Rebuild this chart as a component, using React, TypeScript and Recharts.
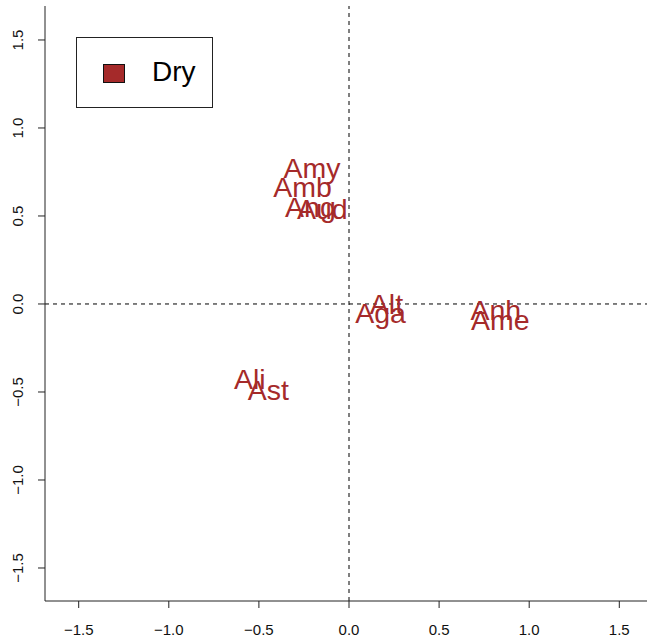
import React from 'react';
import { ScatterChart, Scatter, XAxis, YAxis, ReferenceLine } from 'recharts';

const labels = ['Amy', 'Amb', 'Ang', 'Aud', 'Alt', 'Aga', 'Anh', 'Ame', 'Ali', 'Ast'];
const xValues = [-0.205, -0.258, -0.214, -0.148, 0.208, 0.175, 0.815, 0.84, -0.55, -0.448];
const yValues = [0.775, 0.665, 0.555, 0.54, 0.0, -0.05, -0.03, -0.09, -0.425, -0.49];
const ticks = [-1.5, -1, -0.5, 0, 0.5, 1, 1.5];
const tickLabels = ['\u22121.5', '\u22121.0', '\u22120.5', '0.0', '0.5', '1.0', '1.5'];
const legendLabel = 'Dry';

const COLOR = '#A52A2A';
const AXIS = '#222';
const FONT = '"Liberation Sans", Arial, Helvetica, sans-serif';
const X_DOMAIN: [number, number] = [-1.687, 1.687];
const Y_DOMAIN: [number, number] = [-1.6875, 1.693];

const data = labels.map((name, i) => ({ name, x: xValues[i], y: yValues[i] }));

const fmt = (v: number) => {
  const i = ticks.findIndex((t) => Math.abs(t - v) < 1e-9);
  return i >= 0 ? tickLabels[i] : String(v);
};

const XTick = (props: any) => {
  const { x, y, payload } = props;
  return (
    <text x={x} y={y + 27} textAnchor="middle" fontSize={15} fontFamily={FONT} fill="#111">
      {fmt(payload.value)}
    </text>
  );
};

const YTick = (props: any) => {
  const { x, y, payload } = props;
  const bx = x - 15;
  return (
    <text
      x={bx}
      y={y}
      transform={`rotate(-90 ${bx} ${y})`}
      textAnchor="middle"
      fontSize={15}
      fontFamily={FONT}
      fill="#111"
    >
      {fmt(payload.value)}
    </text>
  );
};

const LabelShape = (props: any) => {
  const { cx, cy, payload } = props;
  const fs = 28.5;
  return (
    <text
      x={cx}
      y={cy + fs * 0.36}
      textAnchor="middle"
      fontSize={fs}
      fontFamily={FONT}
      fill={COLOR}
    >
      {payload.name}
    </text>
  );
};

export default function App() {
  return (
    <div
      style={{
        position: 'fixed',
        left: 0,
        top: 0,
        width: 647,
        height: 641,
        overflow: 'hidden',
        background: '#fff',
      }}
    >
      <ScatterChart width={660} height={641} margin={{ top: 6, right: 7, bottom: 0, left: 0 }}>
        <XAxis
          xAxisId="top"
          orientation="top"
          type="number"
          dataKey="x"
          domain={X_DOMAIN}
          allowDataOverflow
          height={0}
          tick={false}
          tickLine={false}
          axisLine={{ stroke: AXIS, strokeWidth: 1 }}
        />
        <XAxis
          type="number"
          dataKey="x"
          domain={X_DOMAIN}
          allowDataOverflow
          ticks={ticks}
          interval={0}
          height={40}
          tickSize={7}
          tickMargin={0}
          tickLine={{ stroke: AXIS }}
          axisLine={{ stroke: AXIS, strokeWidth: 1 }}
          tick={<XTick />}
        />
        <YAxis
          type="number"
          dataKey="y"
          domain={Y_DOMAIN}
          allowDataOverflow
          ticks={ticks}
          interval={0}
          width={45}
          tickSize={7}
          tickMargin={0}
          tickLine={{ stroke: AXIS }}
          axisLine={{ stroke: AXIS, strokeWidth: 1 }}
          tick={<YTick />}
        />
        <ReferenceLine x={0} stroke="#000" strokeDasharray="4 4" />
        <ReferenceLine y={0} stroke="#000" strokeDasharray="4 4" />
        <Scatter data={data} isAnimationActive={false} shape={<LabelShape />} />
      </ScatterChart>
      <div
        style={{
          position: 'absolute',
          left: 76,
          top: 37,
          width: 137,
          height: 71,
          boxSizing: 'border-box',
          border: `1px solid ${AXIS}`,
          background: '#fff',
        }}
      >
        <div
          style={{
            position: 'absolute',
            left: 26,
            top: 26,
            width: 22,
            height: 19,
            boxSizing: 'border-box',
            background: COLOR,
            border: '1px solid #111',
          }}
        />
        <div
          style={{
            position: 'absolute',
            left: 75,
            top: 16,
            fontSize: 28,
            lineHeight: '36px',
            fontFamily: FONT,
            color: '#000',
          }}
        >
          {legendLabel}
        </div>
      </div>
    </div>
  );
}
